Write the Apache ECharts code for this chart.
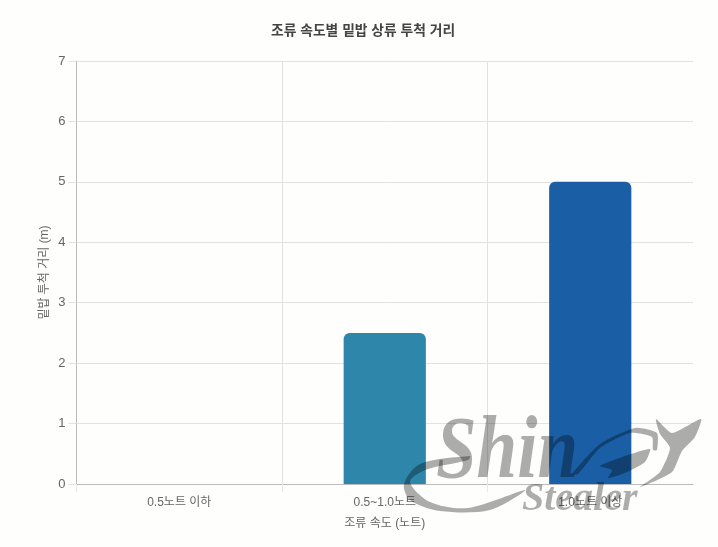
<!DOCTYPE html>
<html><head><meta charset="utf-8">
<style>html,body{margin:0;padding:0;background:#fefefc}#c{width:718px;height:547px}</style>
<script src="https://cdn.jsdelivr.net/npm/echarts@6/dist/echarts.min.js"></script>
</head><body><div id="c"></div>
<script>
const categories = ["0.5노트 이하", "0.5~1.0노트", "1.0노트 이상"];
const values = [0, 2.5, 5];
const barColors = ["#a8d8ea", "#2e86ab", "#1a5fa5"];
const titleText = "조류 속도별 밑밥 상류 투척 거리";
const xName = "조류 속도 (노트)";
const yName = "밑밥 투척 거리 (m)";
const font = "'Liberation Sans','Noto Sans CJK KR',sans-serif";
const bg = "#fefefc";
const wm = "rgba(0,0,0,0.32)";
const wmShape = (points, smooth) => ({type:'polygon',z:100,silent:true,shape:{points,smooth},style:{fill:wm}});
const chart = echarts.init(document.getElementById('c'));
chart.setOption({
  animation:false,
  backgroundColor:bg,
  title:{text:titleText,left:266,top:19,itemGap:0,textStyle:{fontFamily:font,fontSize:13.8,fontWeight:'bold',color:'#444'}},
  grid:{left:76.5,right:25,top:61,bottom:63,containLabel:false},
  xAxis:{type:'category',data:categories,name:xName,nameLocation:'middle',nameGap:34,
    nameTextStyle:{fontFamily:font,fontSize:12,color:'#666'},
    axisLine:{lineStyle:{color:'#bbb'}},
    axisTick:{show:true,length:8,alignWithLabel:false,lineStyle:{color:'#e8e8e8'}},
    axisLabel:{fontFamily:font,fontSize:12,color:'#666',margin:13},
    splitLine:{show:true,showMaxLine:false,lineStyle:{color:'#e2e2e2'}}},
  yAxis:{type:'value',min:0,max:7,interval:1,name:yName,nameLocation:'middle',nameGap:26,nameMoveOverlap:false,
    nameTextStyle:{fontFamily:font,fontSize:12,color:'#666'},
    axisLine:{show:true,lineStyle:{color:'#bbb'}},
    axisTick:{show:true,length:8,lineStyle:{color:'#e2e2e2'}},
    axisLabel:{fontFamily:font,fontSize:13,color:'#666',margin:11,padding:[2,0,0,0]},
    splitLine:{show:true,lineStyle:{color:'#e2e2e2'}}},
  series:[{type:'bar',barWidth:'40%',
    data:values.map((v,i)=>({value:v,itemStyle:{color:barColors[i],borderRadius:[6,6,0,0]}}))}],
  graphic:[
    {type:'rect',z:90,silent:true,shape:{x:692,y:485.5,width:3,height:9},style:{fill:bg}},
    {type:'text',z:100,silent:true,x:436,y:410,scaleX:0.83,style:{text:'Shin',font:"italic bold 88px 'Liberation Serif',serif",fill:wm}},
    {type:'text',z:100,silent:true,left:522,top:480,style:{text:'Stealer',font:"italic bold 40px 'Liberation Serif',serif",fill:wm}},
    wmShape([[656,419],[672,433],[701,419],[695,437],[682,451],[672,472],[640,487],[660,472],[670,448],[660,434]],0.2),
    wmShape([[600,466],[625,456],[650,449],[645,462],[625,473],[608,478],[612,470]],0.2),
    wmShape([[404,484],[420,464],[470,456],[468,460],[425,470],[410,482],[430,502],[468,508],[525,490],[490,510],[440,511],[410,500]],0.3),
    wmShape([[572,474],[600,444],[635,428],[657,433],[657,450],[653,450],[652,437],[630,433],[600,448],[578,474]],0.2)
  ]
});
</script></body></html>
